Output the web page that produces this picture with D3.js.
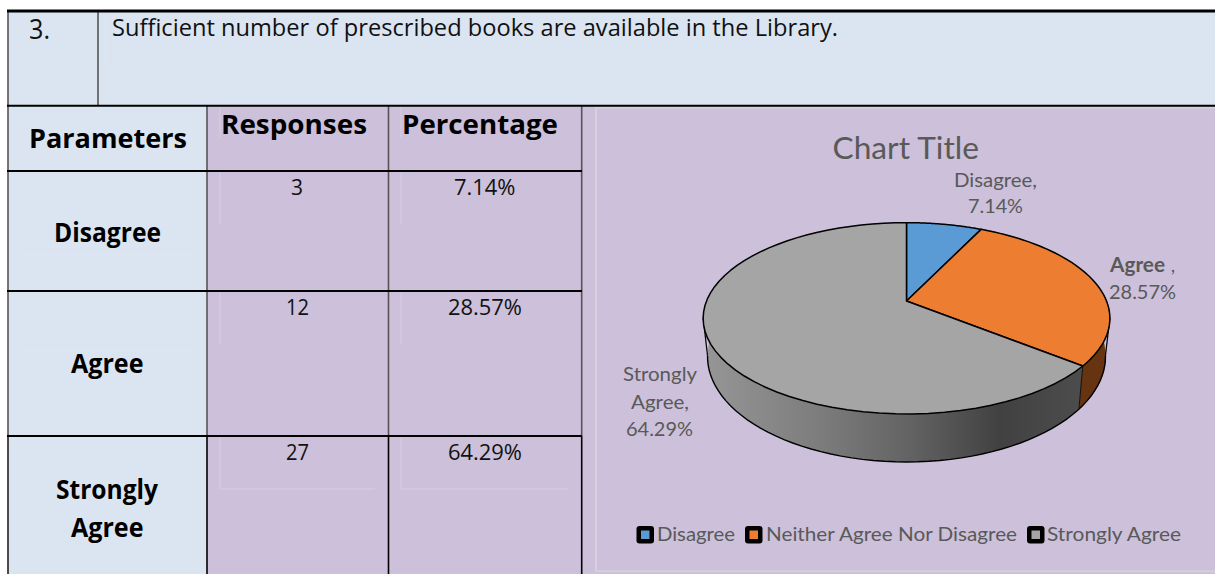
<!DOCTYPE html>
<html><head><meta charset="utf-8">
<script src="https://cdn.jsdelivr.net/npm/d3@7/dist/d3.min.js"></script>
<style>html,body{margin:0;padding:0;background:#fff;overflow:hidden}svg{display:block}</style>
</head><body><svg id="c" width="1215" height="574"></svg>
<script>
// ---- data ----
const questionNo = "3.";
const question = "Sufficient number of prescribed books are available in the Library.";
const headers = ["Parameters", "Responses", "Percentage"];
const categories = ["Disagree", "Agree", "Strongly Agree"];
const responses = [3, 12, 27];
const percentages = ["7.14%", "28.57%", "64.29%"];
const legendLabels = ["Disagree", "Neither Agree Nor Disagree", "Strongly Agree"];
const chartTitle = "Chart Title";

// ---- style ----
const BLUE = "#DBE5F1", LAV = "#CCC0DA", INK = "#111", GREY = "#595959";
const topColors = ["#5B9BD5", "#ED7D31", "#A5A5A5"];
const sideColors = ["#2f5f8e", "#663410", "url(#wall)"];
const TBL = "'Open Sans','Noto Sans',sans-serif", CAL = "Lato,'Noto Sans',sans-serif";

const svg = d3.select("#c");
const defs = svg.append("defs");
const g = defs.append("linearGradient").attr("id", "wall").attr("gradientUnits", "userSpaceOnUse")
  .attr("x1", 704).attr("x2", 1084).attr("y1", 0).attr("y2", 0);
[[0, "#969696"], [.3, "#7d7d7d"], [.55, "#626262"], [.78, "#414141"], [1, "#4d4d4d"]]
  .forEach(([o, c]) => g.append("stop").attr("offset", o).attr("stop-color", c));

const rect = (x, y, w, h, f) => svg.append("rect").attr("x", x).attr("y", y).attr("width", w).attr("height", h).attr("fill", f);
const line = (x1, y1, x2, y2, c, w) => svg.append("line").attr("x1", x1).attr("y1", y1).attr("x2", x2).attr("y2", y2).attr("stroke", c).attr("stroke-width", w);
function text(s, x0, x1, base, size, font, fill, weight) {
  return svg.append("text").attr("x", x0).attr("y", base).text(s)
    .attr("font-family", font).attr("font-size", size).attr("fill", fill)
    .attr("font-weight", weight || 400)
    .attr("textLength", x1 - x0).attr("lengthAdjust", "spacingAndGlyphs");
}

// ---- table backgrounds ----
rect(8, 11, 1207, 95, BLUE);
rect(8, 106, 199, 468, BLUE);
rect(207, 106, 1008, 468, LAV);

// faint text-box traces
const faint = "#e0deea";
[[21, 12, 21, 105], [111, 12, 111, 63], [21, 122, 21, 155], [21, 155, 192, 155], [220, 107, 220, 138],
 [401, 107, 401, 138], [21, 213, 21, 249], [21, 249, 192, 249], [220, 172, 220, 224], [401, 172, 401, 224],
 [21, 345, 21, 382], [21, 345, 192, 345], [220, 292, 220, 344], [401, 292, 401, 344], [21, 471, 21, 544],
 [220, 437, 220, 489], [220, 489, 375, 489], [401, 437, 401, 489], [401, 489, 568, 489]]
  .forEach(d => line(d[0], d[1], d[2], d[3], faint, 1).attr("opacity", .55));

// chart panel border
rect(595, 107, 620, 1.6, "#d6d1dc");
rect(595, 107, 2, 465, "#d6d1dc");
rect(595, 570.4, 620, 1.6, "#d6d1dc");

// ---- grid ----
const dark = "#555";
line(8, 11, 8, 436, dark, 1.6); line(8, 436, 8, 574, "#222", 1.6);
line(98, 11, 98, 106, dark, 1.6);
[207, 388.5, 581.7].forEach(x => { line(x, 106, x, 436, dark, 1.6); line(x, 436, x, 574, "#000", 1.6); });
line(7, 11, 1215, 11, "#000", 3);
line(7, 105.7, 1215, 105.7, "#000", 2);
line(7, 171, 582, 171, "#000", 2);
line(7, 291, 582, 291, "#000", 2);
line(7, 436, 582, 436, "#000", 2);

// ---- table text ----
text(questionNo, 29, 50, 39, 28, TBL, INK);
text(question, 112, 838, 36, 24, TBL, INK);
text(headers[0], 29, 187, 148, 27, TBL, "#000", 700);
text(headers[1], 221, 367, 134, 27, TBL, "#000", 700);
text(headers[2], 402, 558, 134, 27, TBL, "#000", 700);
text(categories[0], 54, 161, 241.5, 26, TBL, "#000", 700);
text(categories[1], 71, 143.5, 373, 26, TBL, "#000", 700);
const [w1, w2] = categories[2].split(" ");
text(w1, 56, 158, 499, 26, TBL, "#000", 700);
text(w2, 71, 143.5, 536.5, 26, TBL, "#000", 700);
const respX = [[291, 303], [286, 309], [286, 309]];
const pctX = [[454, 515.5], [448, 522], [448, 522]];
const rowBase = [195, 315, 460];
responses.forEach((r, i) => {
  text(String(r), respX[i][0], respX[i][1], rowBase[i], 22, TBL, INK);
  text(percentages[i], pctX[i][0], pctX[i][1], rowBase[i], 22, TBL, INK);
});

// ---- 3D pie ----
const deg = d3.pie().sort(null)(responses);
const persp = -0.181;
const upper = { ax: 906.5, ay: 301, A: 200, B: 92.5 };
const lower = { ax: 906.5, ay: 337.4, A: 195.7, B: 102 };
function project(p, a) {
  const X = Math.sin(a), Y = -Math.cos(a), s = 1 / (1 + persp * Y);
  return [p.ax + p.A * X * s, p.ay + p.B * Y * s];
}
const samples = (a0, a1) => d3.range(0, 61).map(i => a0 + (a1 - a0) * i / 60);
const pl = d3.line();
const pie = svg.append("g");

// walls
deg.slice().reverse().forEach(d => {
  const as = samples(d.startAngle, d.endAngle);
  const pts = as.map(a => project(upper, a)).concat(as.slice().reverse().map(a => project(lower, a)));
  pie.append("path").attr("d", pl(pts) + "Z").attr("fill", sideColors[d.index])
    .attr("stroke", sideColors[d.index].startsWith("url") ? "none" : sideColors[d.index]).attr("stroke-width", .5);
});
// silhouette + bottom rim + edge line
const rimAll = d3.range(0, 361).map(i => i * Math.PI / 180);
const leftmost = d3.least(rimAll, a => project(lower, a)[0]);
const rightmost = d3.greatest(rimAll, a => project(lower, a)[0]);
pie.append("path").attr("d", pl(samples(rightmost, leftmost).map(a => project(lower, a))))
  .attr("fill", "none").attr("stroke", "#000").attr("stroke-width", 1.4);
[[d3.greatest, rightmost], [d3.least, leftmost]].forEach(([f, a]) => {
  const u = f(rimAll.map(t => project(upper, t)), p => p[0]);
  pie.append("path").attr("d", pl([u, project(lower, a)])).attr("stroke", "#000").attr("stroke-width", 1.2).attr("fill", "none");
});
{
  const e = deg[1].endAngle;
  pie.append("path").attr("d", pl([project(upper, e), project(lower, e)])).attr("stroke", "#111").attr("stroke-width", 1).attr("fill", "none");
}
// top face
deg.forEach(d => {
  const pts = [[upper.ax, upper.ay]].concat(samples(d.startAngle, d.endAngle).map(a => project(upper, a)));
  pie.append("path").attr("d", pl(pts) + "Z").attr("fill", topColors[d.index])
    .attr("stroke", "#000").attr("stroke-width", 1.5).attr("stroke-linejoin", "round");
});

// ---- chart text ----
text(chartTitle, 832.5, 979, 159, 31, CAL, GREY);
text(categories[0] + ",", 954, 1037, 186.5, 20, CAL, GREY);
text(percentages[0], 968, 1023, 213, 20, CAL, GREY);
text(categories[1], 1110, 1165, 272, 20, CAL, GREY, 700);
text(",", 1171, 1175, 272, 20, CAL, GREY);
text(percentages[1], 1109, 1176, 299, 20, CAL, GREY);
text(w1, 623, 697, 381, 20, CAL, GREY);
text(w2 + ",", 631, 689, 409, 20, CAL, GREY);
text(percentages[2], 626, 693, 436, 20, CAL, GREY);

// ---- legend ----
const legX = [[636.5, 657, 735], [745, 766, 1017], [1027, 1047, 1181]];
legendLabels.forEach((l, i) => {
  const [sx, t0, t1] = legX[i];
  svg.append("rect").attr("x", sx).attr("y", 526).attr("width", 17.5).attr("height", 17.5).attr("rx", 3).attr("fill", "#000");
  svg.append("rect").attr("x", sx + 4.5).attr("y", 530.5).attr("width", 8.5).attr("height", 8.5).attr("fill", topColors[i]);
  text(l, t0, t1, 541, 20, CAL, GREY);
});
</script></body></html>
